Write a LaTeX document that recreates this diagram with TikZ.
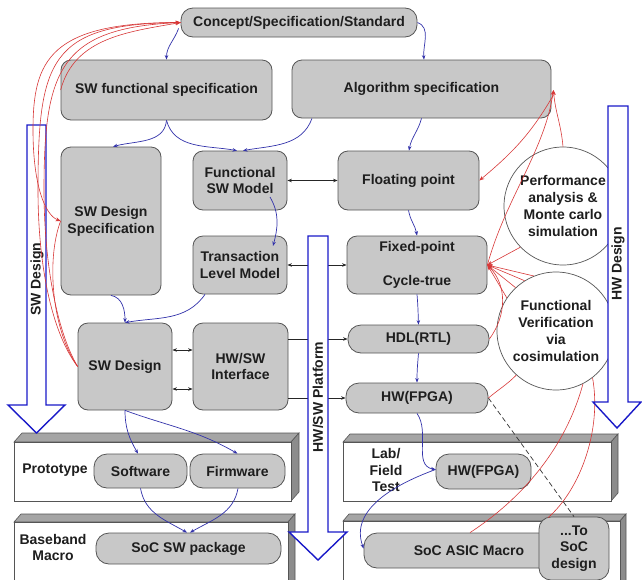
\documentclass[tikz,border=0pt]{standalone}
\usepackage{fontspec}
\setmainfont{Liberation Sans}
\usetikzlibrary{arrows.meta,calc}
\definecolor{boxfill}{RGB}{200,200,200}
\definecolor{boxline}{RGB}{85,85,85}
\definecolor{txt}{RGB}{30,30,30}
\definecolor{conblue}{RGB}{50,50,170}
\definecolor{bigblue}{RGB}{25,25,200}
\definecolor{conred}{RGB}{215,55,55}
\definecolor{topface}{RGB}{165,165,165}
\definecolor{sideface}{RGB}{140,140,140}
\newcommand\slab[6]{%
 \filldraw[fill=topface,draw=boxline,line width=0.6pt] (#1,#3) -- (#2,#3) -- ({#2+#5},{#3-#6}) -- ({#1+#5},{#3-#6}) -- cycle;
 \filldraw[fill=sideface,draw=boxline,line width=0.6pt] (#2,#3) -- ({#2+#5},{#3-#6}) -- ({#2+#5},{#4-#6}) -- (#2,#4) -- cycle;
 \filldraw[fill=white,draw=boxline,line width=0.8pt] (#1,#3) rectangle (#2,#4);}
\begin{document}
\begin{tikzpicture}[x=1pt,y=-1pt,
  tfont/.style={font=\bfseries\fontsize{14}{16.8}\selectfont},
  box/.style={draw=boxline, fill=boxfill, rounded corners=10pt, line width=0.8pt, inner sep=0pt, align=center, text=txt, tfont},
  pill/.style={box, rounded corners=13pt},
  circ/.style={circle, draw=boxline, fill=white, line width=0.7pt, inner sep=0pt, minimum size=118pt, align=center, text=txt, tfont},
  lbl/.style={inner sep=0pt, align=center, text=txt, tfont},
  bl/.style={draw=conblue, line width=0.7pt, -{Stealth[length=4.5pt,width=3.5pt]}},
  bk/.style={draw=black!85, line width=0.7pt},
  bkab/.style={bk, {Stealth[length=4.5pt,width=3.5pt]}-{Stealth[length=4.5pt,width=3.5pt]}},
  bka/.style={bk, -{Stealth[length=4.5pt,width=3.5pt]}},
  rd/.style={draw=conred, line width=0.6pt},
  rda/.style={rd, -{Stealth[length=5pt,width=4pt]}},
  big/.style={draw=bigblue, fill=white, line width=1.4pt, line join=miter}
]
\useasboundingbox (0,0) rectangle (642,579);
\clip (0,0) rectangle (642,579);

% bottom slabs
\slab{14}{291}{442}{501}{8}{9}
\slab{14}{288}{522}{600}{7}{8}
\slab{343}{611}{442}{501}{7}{8}
\slab{343}{620}{521}{600}{6}{7}

% SW design arrow (left)
\path[big] (27,125) -- (46,125) -- (46,405) -- (65,405) -- (36.5,433) -- (8,405) -- (27,405) -- cycle;
\node[lbl, rotate=90] (swlbl) at (37,279) {SW Design};

% main boxes
\node[box, minimum width=236pt, minimum height=29pt, rounded corners=12pt] (concept) at (299,22.5) {Concept/Specification/Standard};
\node[box, minimum width=211pt, minimum height=60pt] (swfs) at (166.5,90) {SW functional specification};
\node[box, minimum width=259pt, minimum height=58pt] (algo) at (421.5,89) {Algorithm specification};
\node[box, minimum width=100pt, minimum height=148pt] (sds) at (111,221) {SW Design\\Specification};
\node[box, minimum width=94pt, minimum height=59pt] (fsm) at (240,180.5) {Functional\\SW Model};
\node[box, minimum width=94pt, minimum height=58pt] (tlm) at (240,265) {Transaction\\Level Model};
\node[box, minimum width=141pt, minimum height=59pt] (fp) at (408.5,180.5) {Floating point};
\node[box, minimum width=140pt, minimum height=58pt] (fx) at (417,265) {Fixed-point\\[17pt]Cycle-true};
\node[box, minimum width=94pt, minimum height=87pt] (swd) at (125,366.5) {SW Design};
\node[box, minimum width=95pt, minimum height=87pt] (hwsw) at (240.5,366.5) {HW/SW\\Interface};
\node[pill, minimum width=141pt, minimum height=28pt] (hdl) at (418.5,339) {HDL(RTL)};
\node[pill, minimum width=142pt, minimum height=30pt] (hwf) at (417,398) {HW(FPGA)};
\node[circ] (perf) at (563,206) {Performance\\analysis \&\\Monte carlo\\simulation};
\node[circ] (fv) at (556,331) {Functional\\Verification\\via\\cosimulation};

% bottom content
\node[lbl] (protolbl) at (55,470) {Prototype};
\node[pill, minimum width=93pt, minimum height=34pt] (software) at (140.5,471) {Software};
\node[pill, minimum width=95pt, minimum height=34pt] (firmware) at (237.5,471) {Firmware};
\node[lbl] (bblbl) at (53,547.5) {Baseband\\Macro};
\node[pill, minimum width=185pt, minimum height=31pt] (socsw) at (188.5,548.5) {SoC SW package};
\node[lbl] (lablbl) at (386,470) {Lab/\\Field\\Test};
\node[pill, minimum width=95pt, minimum height=35pt] (hwf2) at (483.5,471.5) {HW(FPGA)};
\node[pill, minimum width=192pt, minimum height=35pt] (asicm) at (460,550.5) {\hspace*{18pt}SoC ASIC Macro};
\node[box, minimum width=70pt, minimum height=63pt, rounded corners=12pt] (tosoc) at (574,548.5) {...To\\SoC\\design};

% blue connectors
\draw[bl] ([xshift=-2pt,yshift=9pt]concept.south west) to[out=-110,in=90] (swfs.north);
\draw[bl] (concept.east) to[out=-20,in=95] ([xshift=2.5pt]algo.north);
\draw[bl] (swfs.south) to[out=-95,in=15] ([xshift=2pt]sds.north);
\draw[bl] (swfs.south) to[out=-75,in=170] ([xshift=-3pt]fsm.north);
\draw[bl] ([xshift=-109.5pt]algo.south) to[out=-110,in=10] ([xshift=3pt]fsm.north);
\draw[bl] (algo.south) to[out=-105,in=80] ([xshift=0.5pt]fp.north);
\draw[bl] (fp.south) to[out=-80,in=100] (fx.north);
\draw[bl] ([xshift=30pt,yshift=-16.5pt]fsm.center) to[out=-60,in=75] ([xshift=33pt,yshift=19pt]tlm.center);
\draw[bl] (sds.south) to[out=-10,in=90] (swd.north);
\draw[bl] ([xshift=-35pt]tlm.south) to[out=-125,in=10] (swd.north);
\draw[bl] (swd.south) to[out=-90,in=120] ([xshift=-2.5pt]software.north);
\draw[bl] (swd.south) to[out=-20,in=150] (firmware.north);
\draw[bl] (software.south) to[out=-80,in=150] ([xshift=-1.5pt]socsw.north);
\draw[bl] ([xshift=0.5pt]firmware.south) to[out=-100,in=30] ([xshift=1.5pt]socsw.north);
\draw[bl] (fx.south) to[out=-85,in=92] (hdl.north);
\draw[bl] (hdl.south) to[out=-95,in=90] (hwf.north);
\draw[bl] (hwf.south) to[out=-55,in=170] ([yshift=2pt]hwf2.west);
\draw[bl] ([yshift=2pt]hwf2.west) to[out=200,in=110] ([yshift=2pt]asicm.west);

% black connectors
\draw[bkab] (fsm.east) -- (fp.west);
\draw[bkab] (tlm.east) -- (fx.west);
\draw[bkab] ([yshift=16.5pt]swd.east) -- ([yshift=16.5pt]hwsw.west);
\draw[bkab] ([yshift=-22.5pt]swd.east) -- ([yshift=-22.5pt]hwsw.west);
\draw[bka] (hwsw.east |- hdl.west) -- (hdl.west);
\draw[bka] (hwsw.east |- hwf.west) -- (hwf.west);
\draw[black!80, line width=0.7pt, dash pattern=on 5pt off 3pt] (hwf.east) -- (tosoc.north);

% red connectors (left)
\draw[rda] (swfs.west) to[out=75,in=190] (concept.west);
\draw[rda] (swd.west) .. controls (50,330) and (38,260) .. (38,190) .. controls (38,60) and (50,24) .. (concept.west);
\draw[rda] (swd.west) .. controls (56,330) and (44,260) .. (44,190) .. controls (44,70) and (60,28) .. (concept.west);
\draw[rda] (concept.west) .. controls (50,22) and (33,60) .. (33,130) .. controls (33,185) and (45,215) .. (sds.west);
\draw[rd] (swd.west) .. controls (52,330) and (46,260) .. (sds.west);

% red connectors (right)
\draw[rda] (perf.north) to[out=95,in=-85] ([xshift=2pt,yshift=-1pt]algo.east);
\draw[rda] (fx.east) .. controls (505,200) and (545,150) .. ([xshift=2pt,yshift=-1pt]algo.east);
\draw[rda] ([xshift=2pt,yshift=-6pt]algo.east) to[out=-120,in=40] (fp.east);
\draw[rda] (perf.224) -- (fx.east);
\foreach \a in {112,122,133,146} {\draw[rda] (fv.\a) -- (fx.east);}
\draw[rda] (hdl.east) .. controls (507,315) and (507,285) .. (fx.east);
\draw[rd] (hwf.east) to[out=40,in=225] (fv.228);
\draw[rd] (fv.297) .. controls (565,450) and (520,500) .. ([xshift=10pt]asicm.north);
\draw[rd] (fv.308) .. controls (602,430) and (580,490) .. ([xshift=-26pt,yshift=-1pt]tosoc.north);

% HW/SW platform arrow
\path[big] (308,236) -- (328,236) -- (328,532) -- (347,532) -- (318,560) -- (289,532) -- (308,532) -- cycle;
\node[lbl, rotate=90] (platlbl) at (318,397) {HW/SW Platform};

% HW design arrow (right)
\path[big] (608,106) -- (628,106) -- (628,402) -- (641,402) -- (617,428) -- (593,402) -- (608,402) -- cycle;
\node[lbl, rotate=90] (hwlbl) at (618,264) {HW Design};
\end{tikzpicture}
\end{document}
